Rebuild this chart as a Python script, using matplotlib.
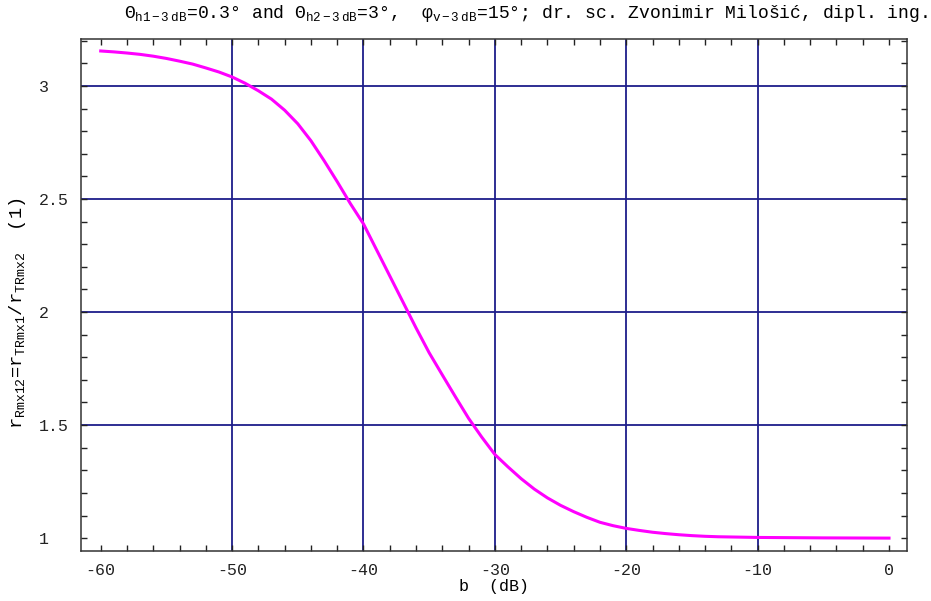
import matplotlib
matplotlib.use("Agg")
import matplotlib.pyplot as plt
from matplotlib.ticker import MultipleLocator, FixedLocator

# attenuation b (dB) and range ratio read at 1 dB steps
b_db = [-60, -59, -58, -57, -56, -55, -54, -53, -52, -51,
        -50, -49, -48, -47, -46, -45, -44, -43, -42, -41,
        -40, -39, -38, -37, -36, -35, -34, -33, -32, -31,
        -30, -29, -28, -27, -26, -25, -24, -23, -22, -21,
        -20, -19, -18, -17, -16, -15, -14, -13, -12, -11,
        -10, -5, 0]
ratio = [3.155, 3.151, 3.146, 3.140, 3.132, 3.122, 3.110, 3.097, 3.080, 3.062,
         3.040, 3.012, 2.979, 2.942, 2.893, 2.833, 2.758, 2.670, 2.577, 2.480,
         2.390, 2.275, 2.160, 2.045, 1.930, 1.820, 1.722, 1.625, 1.530, 1.447,
         1.370, 1.315, 1.263, 1.217, 1.178, 1.145, 1.117, 1.092, 1.070, 1.055,
         1.043, 1.034, 1.026, 1.020, 1.015, 1.011, 1.008, 1.006, 1.005, 1.004,
         1.003, 1.001, 1.000]

x_ticks = [-60, -50, -40, -30, -20, -10, 0]
y_ticks = [1, 1.5, 2, 2.5, 3]
y_tick_labels = ["1  ", "1.5", "2  ", "2.5", "3  "]

MONO = "Liberation Mono"
plt.rcParams["font.family"] = [MONO, "DejaVu Sans Mono"]
plt.rcParams["mathtext.fontset"] = "custom"
plt.rcParams["mathtext.rm"] = MONO
plt.rcParams["mathtext.it"] = MONO
plt.rcParams["mathtext.default"] = "rm"

GRID = "#1e1e8a"
FS = 12

fig = plt.figure(figsize=(9.31, 6.01), dpi=100)
ax = fig.add_axes([81 / 931, 1 - 551 / 601, (907 - 81) / 931, (551 - 39) / 601])

# grid only at the inner major ticks
for x in x_ticks[1:-1]:
    ax.axvline(x, color=GRID, lw=1.3, zorder=1)
for y in y_ticks[1:]:
    ax.axhline(y, color=GRID, lw=1.3, zorder=1)

ax.plot(b_db, ratio, color="#ff00ff", lw=2.2, zorder=3)

ax.set_xlim(-61.5, 1.37)
ax.set_ylim(0.943, 3.208)

ax.xaxis.set_major_locator(FixedLocator(x_ticks))
ax.xaxis.set_minor_locator(MultipleLocator(2))
ax.yaxis.set_major_locator(FixedLocator(y_ticks))
ax.yaxis.set_minor_locator(MultipleLocator(0.1))
ax.set_xticklabels([str(v) for v in x_ticks])
ax.set_yticklabels(y_tick_labels)

ax.tick_params(which="both", direction="in", length=4.5, width=1.0,
               top=True, right=True, labelsize=FS, pad=8.5, colors="#222222")
for sp in ax.spines.values():
    sp.set_linewidth(1.1)
    sp.set_color("#333333")

ax.set_xlabel("b  (dB)", fontsize=FS, labelpad=1)
ax.set_ylabel(r"$\mathrm{r}_{\mathrm{Rmx12}}$=$\mathrm{r}_{\mathrm{TRmx1}}$/$\mathrm{r}_{\mathrm{TRmx2}}$  (1)",
              fontsize=13.5)
ax.yaxis.set_label_coords(-0.064, 0.465)

title = (r"$\Theta_{\mathrm{h1-3\ dB}}$=0.3° and $\Theta_{\mathrm{h2-3\ dB}}$=3°,  "
         r"$\varphi_{\mathrm{v-3\ dB}}$=15°; dr. sc. Zvonimir Milošić, dipl. ing.")
fig.text(0.565, 1 - 14 / 601, title, ha="center", va="center", fontsize=13)

fig.savefig("out.png", dpi=100, facecolor="white")
